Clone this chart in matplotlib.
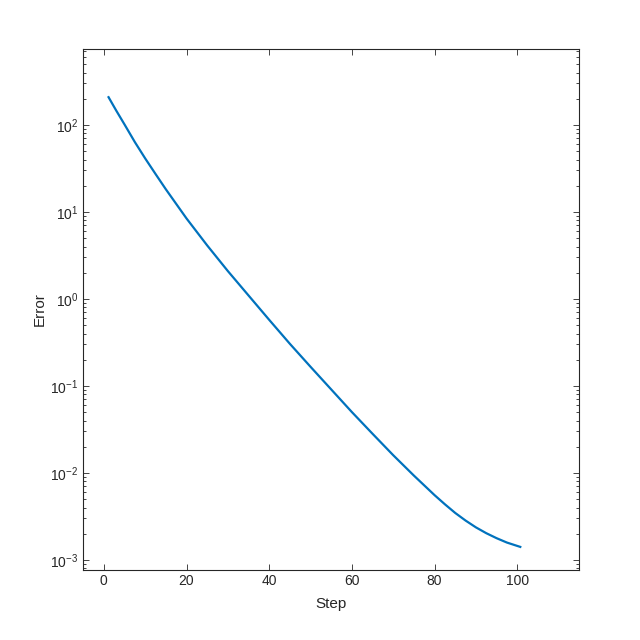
import matplotlib
matplotlib.use("Agg")
import matplotlib.pyplot as plt
from matplotlib.ticker import LogLocator, NullLocator, FixedLocator, NullFormatter

steps = [1, 3, 5, 7.5, 10, 12.5, 15, 20, 25, 30, 35, 40, 45, 50, 55, 60, 65, 70, 75,
         80, 82.5, 85, 87.5, 90, 92.5, 95, 97.5, 100, 101]
error = [213.8, 146, 101.2, 63.5, 41.2, 27.3, 18.2, 8.41, 4.12, 2.09, 1.096, 0.575,
         0.305, 0.166, 0.0912, 0.0501, 0.0282, 0.0160, 0.00933,
         0.00556, 0.004365, 0.00347, 0.002838, 0.00237, 0.002032, 0.00178, 0.001585,
         0.00145, 0.00140]
xticks = [0, 20, 40, 60, 80, 100]
yticks = [1e-3, 1e-2, 1e-1, 1e0, 1e1, 1e2]

plt.rcParams['font.family'] = ['Liberation Sans', 'DejaVu Sans']
plt.rcParams['mathtext.fontset'] = 'custom'
plt.rcParams['mathtext.rm'] = 'Liberation Sans'

fig = plt.figure(figsize=(6.4, 6.4), dpi=100)
ax = fig.add_axes([0.13, 0.11, 0.775, 0.8136])
ax.plot(steps, error, color='#0072BD', linewidth=1.6, solid_joinstyle='round',
        solid_capstyle='butt')
ax.set_yscale('log')
ax.set_xlim(-5, 115)
ax.set_ylim(10**-3.111, 10**2.874)
ax.xaxis.set_major_locator(FixedLocator(xticks))
ax.xaxis.set_minor_locator(NullLocator())
ax.yaxis.set_major_locator(FixedLocator(yticks))
ax.yaxis.set_minor_locator(LogLocator(base=10, subs=range(2, 10), numticks=20))
ax.yaxis.set_minor_formatter(NullFormatter())

dark = '#262626'
for s in ax.spines.values():
    s.set_color(dark)
    s.set_linewidth(0.8)
ax.tick_params(which='both', direction='in', top=True, right=True, colors=dark,
               labelcolor=dark, labelsize=10, width=0.6)
ax.tick_params(which='major', length=4)
ax.tick_params(which='minor', length=2.2)
ax.set_xlabel('Step', fontsize=11, color=dark, labelpad=6)
ax.set_ylabel('Error', fontsize=11, color=dark, labelpad=2.5)

fig.savefig('out.png', dpi=100)
